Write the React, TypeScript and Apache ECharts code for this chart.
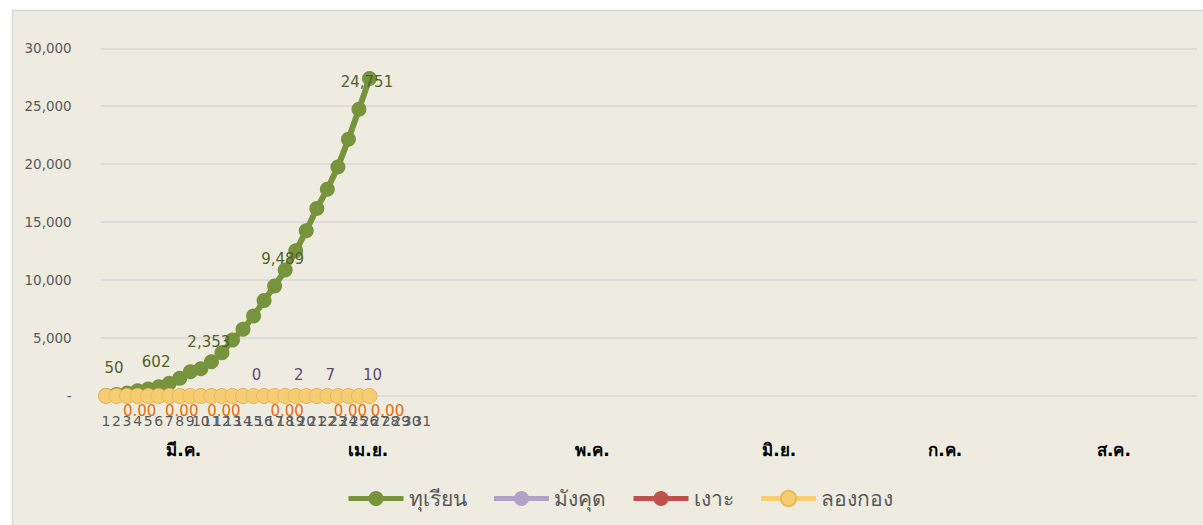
import React, { useEffect, useRef } from 'react';
import * as echarts from 'echarts';

// ---- data ----
const dayLabels = ['1', '2', '3', '4', '5', '6', '7', '8', '9', '10', '11', '12', '13', '14', '15', '16',
  '17', '18', '19', '20', '21', '22', '23', '24', '25', '26', '27', '28', '29', '30', '31'];
const SLOT_COUNT = 104;
const monthNames = ['มี.ค.', 'เม.ย.', 'พ.ค.', 'มิ.ย.', 'ก.ค.', 'ส.ค.'];
const FINE_SLOTS = 416;
const monthFineSlot = [31, 101, 186, 257, 320, 384];

const seriesNames = ['ทุเรียน', 'มังคุด', 'เงาะ', 'ลองกอง'];
const durian = [50, 120, 250, 450, 602, 800, 1100, 1530, 2090, 2353, 2957, 3733, 4828, 5750, 6897, 8230,
  9489, 10862, 12526, 14250, 16181, 17845, 19767, 22155, 24751, 27390];
const mangosteen = [0, 0, 0, 0, 0, 0, 0, 0, 0, 0, 0, 0, 0, 0, 0, 1, 1, 1, 2, 4, 6, 7, 8, 9, 9, 10];
const rambutan = [0, 0, 0, 0, 0, 0, 0, 0, 0, 0, 0, 0, 0, 0, 0, 0, 0, 0, 0, 0, 0, 0, 0, 0, 0, 0];
const longkong = [0, 0, 0, 0, 0, 0, 0, 0, 0, 0, 0, 0, 0, 0, 0, 0, 0, 0, 0, 0, 0, 0, 0, 0, 0, 0];

const durianLabelIdx = [0, 4, 9, 16, 24];
const mangosteenLabelIdx = [14, 18, 21, 25];
const longkongLabelIdx = [3, 7, 11, 17, 23, 25];

const yMin = 0;
const yMax = 30000;
const yStep = 5000;

// ---- styles ----
const colors = ['#77933c', '#b3a2c7', '#c0504d', '#f6cd70'];
const FONT = '"DejaVu Sans", "Noto Sans", sans-serif';
const longkongLabelNudge: Record<number, number> = { 25: 18 };

export default function App() {
  const ref = useRef<HTMLDivElement>(null);
  useEffect(() => {
    if (!ref.current) return;
    const chart = echarts.init(ref.current, undefined, { renderer: 'svg' });

    const xCats = dayLabels.concat(Array(SLOT_COUNT - dayLabels.length).fill(''));
    const fineCats: string[] = Array(FINE_SLOTS).fill('');
    monthFineSlot.forEach((s, i) => { fineCats[s] = monthNames[i]; });

    const mk = (vals: number[], idx: number[], nudge?: Record<number, number>) =>
      vals.map((v, i) => {
        const item: any = { value: v, label: { show: idx.includes(i) } };
        if (nudge && nudge[i] !== undefined) item.label.offset = [nudge[i], 0];
        return item;
      });

    const lineSeries = (name: string, color: string, data: any[], label: any) => ({
      type: 'line',
      name,
      data,
      symbol: 'circle',
      symbolSize: 15,
      lineStyle: { width: 6, color },
      itemStyle: { color },
      label,
      emphasis: { disabled: true },
    });

    chart.setOption({
      animation: false,
      backgroundColor: '#ffffff',
      textStyle: { fontFamily: FONT },
      graphic: {
        elements: [{
          type: 'rect', z: -10, silent: true,
          shape: { x: 12.5, y: 10.5, width: 1300, height: 700 },
          style: { fill: '#eeece1', stroke: '#d9d9d9', lineWidth: 1.5 },
        }],
      },
      grid: { left: 100.7, right: 6, top: 48.3, bottom: 129, containLabel: false },
      xAxis: [
        {
          type: 'category', data: xCats, boundaryGap: true,
          axisLine: { show: false }, axisTick: { show: false },
          axisLabel: { interval: 0, margin: 18, fontSize: 14, color: '#595959', fontFamily: FONT },
          splitLine: { show: false },
        },
        {
          type: 'category', data: fineCats, boundaryGap: true, position: 'bottom',
          axisLine: { show: false }, axisTick: { show: false },
          axisLabel: { interval: 0, margin: 45, fontSize: 17, fontWeight: 'bold', color: '#000000', fontFamily: FONT },
          splitLine: { show: false },
        },
      ],
      yAxis: {
        type: 'value', min: yMin, max: yMax, interval: yStep,
        axisLine: { show: false }, axisTick: { show: false },
        axisLabel: {
          margin: 29, fontSize: 13.5, color: '#595959', fontFamily: FONT,
          formatter: (v: number) => (v === 0 ? '-' : v.toLocaleString('en-US')),
        },
        splitLine: { lineStyle: { color: '#d9d9d9', width: 1.5 } },
      },
      legend: {
        left: 341, top: 483, itemWidth: 55, itemHeight: 19, itemGap: 25,
        lineStyle: { width: 5 },
        textStyle: { fontSize: 21, color: '#595959', fontFamily: FONT },
        data: seriesNames,
      },
      series: [
        lineSeries(seriesNames[0], colors[0], mk(durian, durianLabelIdx), {
          show: false, position: 'top', distance: 12, offset: [8, 0], color: '#4f6228', fontSize: 15,
          formatter: (p: any) => Number(p.value).toLocaleString('en-US'),
        }),
        lineSeries(seriesNames[1], colors[1], mk(mangosteen, mangosteenLabelIdx), {
          show: false, position: 'top', distance: 6, offset: [3, 0], color: '#5f497a', fontSize: 15,
          formatter: (p: any) => String(p.value),
        }),
        lineSeries(seriesNames[2], colors[2], mk(rambutan, []), { show: false }),
        {
          ...lineSeries(seriesNames[3], colors[3], mk(longkong, longkongLabelIdx, longkongLabelNudge), {
            show: false, position: 'bottom', distance: 0, offset: [2, 0], color: '#e46c0a', fontSize: 15,
            formatter: (p: any) => Number(p.value).toFixed(2),
          }),
          itemStyle: { color: colors[3], borderColor: '#e9b85a', borderWidth: 0.8 },
        },
      ],
    });
    return () => chart.dispose();
  }, []);
  return <div ref={ref} style={{ position: 'absolute', left: 0, top: 0, width: 1203, height: 525 }} />;
}
